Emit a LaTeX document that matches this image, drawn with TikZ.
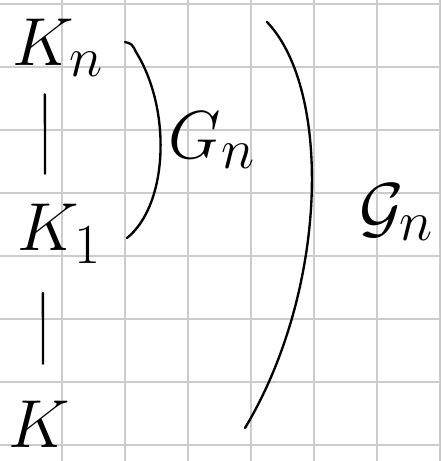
\documentclass[tikz,border=0pt]{standalone}
\usepackage{amsmath,amssymb}
\tikzset{
  gridline/.style={black!20, line width=1.7pt},
  stroke/.style={line width=2pt, line cap=round},
  fld/.style={inner sep=0pt, anchor=base west, font=\Huge, scale=2.33},
  grp/.style={inner sep=0pt, font=\Huge, scale=2.33},
}
\begin{document}
\begin{tikzpicture}[x=0.03cm,y=-0.03cm]
\useasboundingbox (0,0) rectangle (441,461);
\clip (0,0) rectangle (441,461);
\fill[white] (0,0) rectangle (441,461);
% squared paper
\foreach \i in {0,...,7} {
  \draw[gridline] (-0.6+62.9*\i,0) -- (-0.6+62.9*\i,461);
  \draw[gridline] (0,4.3+63*\i) -- (441,4.3+63*\i);
}

% tower of fields
\node[fld] (kn) at (12,66) {$K_n$};
\node[fld] (k1) at (17,250) {$K_1$};
\node[fld] (k) at (8,447) {$K$};
\draw[stroke, shorten <=15pt, shorten >=25pt] ([xshift=28pt]kn.south west) -- ([xshift=24pt]k1.north west);
\draw[stroke, shorten <=25pt, shorten >=31pt] ([xshift=22pt]k1.south west) -- ([xshift=30pt]k.north west);

% groups
\coordinate (smalltop) at (125,42);
\coordinate (smallbot) at (127,238);
\coordinate (bigtop) at (267,22);
\coordinate (bigbot) at (245,428);
\draw[stroke] (smalltop) .. controls (132,44) .. (136,52) .. controls (172,110) and (168,205) .. (smallbot);
\draw[stroke] (bigtop) .. controls (332,90) and (328,290) .. (bigbot);
\node[grp] (gn) at (212,140) {$G_n$};
\node[grp] (calgn) at (397,212) {$\mathcal{G}_n$};
\end{tikzpicture}
\end{document}
